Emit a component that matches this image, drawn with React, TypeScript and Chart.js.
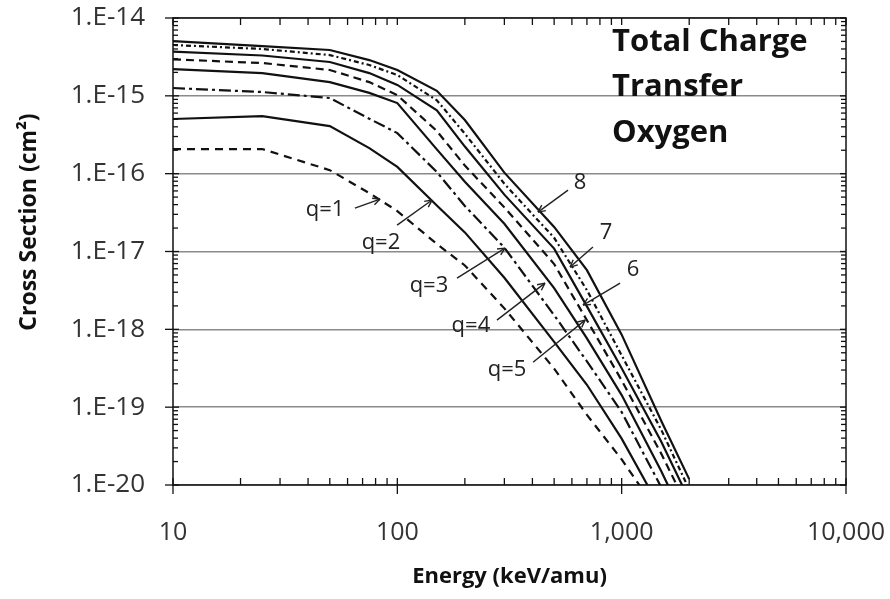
import React, { useEffect, useRef } from "react";
import { Chart, registerables } from "chart.js";

Chart.register(...registerables);

// ---- data ----
const ENERGY = [10, 25, 50, 75, 100, 150, 200, 300, 500, 700, 1000, 1500, 2000];
const Q1 = [2.07e-16, 2.07e-16, 1.11e-16, 5.63e-17, 3.31e-17, 1.25e-17, 6.62e-18, 1.86e-18, 3.13e-19, 7.96e-20, 2.13e-20, 3.92e-21, 9.6e-22];
const Q2 = [5.04e-16, 5.5e-16, 4.09e-16, 2.13e-16, 1.22e-16, 3.89e-17, 1.76e-17, 4.59e-18, 6.9e-19, 1.94e-19, 3.94e-20, 4.8e-21, 1.1e-21];
const Q3 = [1.26e-15, 1.12e-15, 9.37e-16, 5.08e-16, 3.32e-16, 1.05e-16, 3.85e-17, 1.12e-17, 1.52e-18, 3.88e-19, 8.65e-20, 9.4e-21, 1.64e-21];
const Q4 = [2.21e-15, 1.96e-15, 1.5e-15, 1.09e-15, 8.07e-16, 2.05e-16, 7.89e-17, 2.27e-17, 3.39e-18, 7.66e-19, 1.43e-19, 1.51e-20, 2.7e-21];
const Q5 = [2.94e-15, 2.64e-15, 2.15e-15, 1.5e-15, 1.02e-15, 3.53e-16, 1.27e-16, 3.69e-17, 6.9e-18, 1.31e-18, 2.21e-19, 2.54e-20, 4.72e-21];
const Q6 = [3.69e-15, 3.3e-15, 2.72e-15, 1.96e-15, 1.38e-15, 6.53e-16, 2.23e-16, 5.38e-17, 1.09e-17, 1.97e-18, 3.17e-19, 3.62e-20, 6.44e-21];
const Q7 = [4.5e-15, 4.0e-15, 3.34e-15, 2.49e-15, 1.85e-15, 8.77e-16, 3.26e-16, 7.41e-17, 1.5e-17, 3.19e-18, 4.63e-19, 5.15e-20, 8.75e-21];
const Q8 = [5.06e-15, 4.36e-15, 3.88e-15, 2.88e-15, 2.15e-15, 1.16e-15, 4.88e-16, 1.03e-16, 2.07e-17, 5.75e-18, 8.55e-19, 6.7e-20, 1.19e-20];

const SERIES_NAMES = ["q=1", "q=2", "q=3", "q=4", "q=5", "q=6", "q=7", "q=8"];
const SERIES_VALUES = [Q1, Q2, Q3, Q4, Q5, Q6, Q7, Q8];

const X_TICKS = [10, 100, 1000, 10000];
const X_TICK_LABELS = ["10", "100", "1,000", "10,000"];
const Y_TICKS = [1e-20, 1e-19, 1e-18, 1e-17, 1e-16, 1e-15, 1e-14];
const Y_TICK_LABELS = ["1.E-20", "1.E-19", "1.E-18", "1.E-17", "1.E-16", "1.E-15", "1.E-14"];

const X_TITLE = "Energy (keV/amu)";
const Y_TITLE = "Cross Section (cm²)";
const BOX_LINES = ["Total Charge", "Transfer", "Oxygen"];

// curve labels: text, anchor (log10 E, log10 sigma), arrow from, arrow to
const NOTE_TEXT = ["q=1", "q=2", "q=3", "q=4", "q=5", "8", "7", "6"];
const NOTE_AT = [[1.678, -16.468], [1.927, -16.892], [2.141, -17.445], [2.328, -17.959], [2.489, -18.524], [2.814, -16.121], [2.93, -16.763], [3.051, -17.239]];
const ARROW_FROM = [[1.811, -16.442], [1.999, -16.661], [2.266, -17.342], [2.444, -17.882], [2.605, -18.422], [2.761, -16.211], [2.872, -16.943], [2.993, -17.406]];
const ARROW_TO = [[1.923, -16.326], [2.155, -16.339], [2.48, -16.956], [2.658, -17.406], [2.837, -17.882], [2.627, -16.494], [2.77, -17.2], [2.828, -17.689]];

// ---- styles ----
const DASHES: number[][] = [[8, 6], [], [12, 4, 3, 4], [], [8, 5], [], [5, 3, 2, 3], []];
const INK = "#111111";
const FONT = "'Open Sans', 'Liberation Sans', sans-serif";

const overlayPlugin = {
  id: "overlay",
  afterDatasetsDraw(chart: any) {
    const { ctx, chartArea: a, scales } = chart;
    const xs = scales.x;
    const ys = scales.y;
    ctx.save();
    ctx.strokeStyle = INK;
    ctx.lineWidth = 1.5;
    ctx.setLineDash([]);
    ctx.strokeRect(a.left, a.top, a.right - a.left, a.bottom - a.top);

    const line = (x1: number, y1: number, x2: number, y2: number) => {
      ctx.beginPath();
      ctx.moveTo(x1, y1);
      ctx.lineTo(x2, y2);
      ctx.stroke();
    };
    ctx.lineWidth = 1.3;
    // x ticks
    for (let e = 1; e <= 4; e++) {
      const p = xs.getPixelForValue(Math.pow(10, e));
      line(p, a.bottom + 9, p, a.bottom - 7);
      line(p, a.top, p, a.top + 7);
      if (e < 4) {
        for (let m = 2; m <= 9; m++) {
          const q = xs.getPixelForValue(m * Math.pow(10, e));
          line(q, a.bottom, q, a.bottom - 7);
          line(q, a.top, q, a.top + 7);
        }
      }
    }
    // y ticks
    for (let e = -20; e <= -14; e++) {
      const p = ys.getPixelForValue(Math.pow(10, e));
      line(a.left - 8, p, a.left + 6, p);
      line(a.right, p, a.right - 6, p);
      if (e < -14) {
        for (let m = 2; m <= 9; m++) {
          const q = ys.getPixelForValue(m * Math.pow(10, e));
          line(a.left, q, a.left + 5, q);
          line(a.right, q, a.right - 5, q);
        }
      }
    }

    // curve annotations
    const px = (pt: number[]) => [xs.getPixelForValue(Math.pow(10, pt[0])), ys.getPixelForValue(Math.pow(10, pt[1]))];
    ctx.fillStyle = "#222";
    ctx.font = `22px ${FONT}`;
    ctx.textAlign = "center";
    ctx.textBaseline = "middle";
    ctx.lineWidth = 1.4;
    ctx.strokeStyle = "#222";
    for (let i = 0; i < NOTE_TEXT.length; i++) {
      const [tx, ty] = px(NOTE_AT[i]);
      ctx.fillText(NOTE_TEXT[i], tx, ty);
      const [x1, y1] = px(ARROW_FROM[i]);
      const [x2, y2] = px(ARROW_TO[i]);
      line(x1, y1, x2, y2);
      const ang = Math.atan2(y2 - y1, x2 - x1);
      const h = 8;
      line(x2, y2, x2 - h * Math.cos(ang - 0.45), y2 - h * Math.sin(ang - 0.45));
      line(x2, y2, x2 - h * Math.cos(ang + 0.45), y2 - h * Math.sin(ang + 0.45));
    }

    // text box
    ctx.fillStyle = "#111";
    ctx.font = `bold 31px ${FONT}`;
    ctx.textAlign = "left";
    ctx.textBaseline = "alphabetic";
    const bx = xs.getPixelForValue(Math.pow(10, 2.957));
    const baseLogs = [-14.424, -15.003, -15.594];
    BOX_LINES.forEach((t, i) => ctx.fillText(t, bx, ys.getPixelForValue(Math.pow(10, baseLogs[i]))));

    // axis titles
    ctx.font = `bold 22px ${FONT}`;
    ctx.textAlign = "center";
    ctx.textBaseline = "middle";
    ctx.fillText(X_TITLE, (a.left + a.right) / 2, 577);
    ctx.font = `bold 23px ${FONT}`;
    ctx.translate(29, 222);
    ctx.rotate(-Math.PI / 2);
    ctx.fillText(Y_TITLE, 0, 0);
    ctx.restore();
  },
};

const bgPlugin = {
  id: "bg",
  beforeDraw(chart: any) {
    const { ctx, width, height } = chart;
    ctx.save();
    ctx.fillStyle = "#ffffff";
    ctx.fillRect(0, 0, width, height);
    ctx.restore();
  },
};

export default function App() {
  const ref = useRef<HTMLCanvasElement | null>(null);

  useEffect(() => {
    if (!ref.current) return;
    const datasets = SERIES_VALUES.map((vals, i) => ({
      label: SERIES_NAMES[i],
      data: ENERGY.map((e, j) => ({ x: e, y: vals[j] })),
      borderColor: INK,
      backgroundColor: INK,
      borderWidth: 2.2,
      borderDash: DASHES[i],
      pointRadius: 0,
      tension: 0,
      fill: false,
      clip: 0,
    }));
    const chart = new Chart(ref.current, {
      type: "line",
      data: { datasets },
      options: {
        responsive: false,
        animation: false,
        events: [],
        layout: { padding: { left: 0, top: 18, right: 44, bottom: 0 } },
        plugins: { legend: { display: false }, tooltip: { enabled: false }, title: { display: false } },
        scales: {
          x: {
            type: "logarithmic",
            min: 10,
            max: 10000,
            afterBuildTicks: (s: any) => {
              s.ticks = X_TICKS.map((v) => ({ value: v, major: true }));
            },
            afterFit: (s: any) => {
              s.height = 114;
              s.paddingLeft = 0;
              s.paddingRight = 0;
              s.paddingTop = 0;
              s.paddingBottom = 0;
            },
            grid: { display: false, drawTicks: false },
            border: { display: false },
            ticks: {
              autoSkip: false,
              maxRotation: 0,
              padding: 33,
              color: "#333",
              font: { family: FONT, size: 25 },
              callback: (_v: any, i: number) => X_TICK_LABELS[i],
            },
          },
          y: {
            type: "logarithmic",
            min: 1e-20,
            max: 1e-14,
            afterBuildTicks: (s: any) => {
              s.ticks = Y_TICKS.map((v) => ({ value: v, major: true }));
            },
            afterFit: (s: any) => {
              s.width = 173;
              s.paddingLeft = 0;
              s.paddingRight = 0;
              s.paddingTop = 0;
              s.paddingBottom = 0;
            },
            grid: { display: true, drawTicks: false, color: "#8a8a8a", lineWidth: 1.5 },
            border: { display: false },
            ticks: {
              autoSkip: false,
              padding: 28,
              color: "#333",
              font: { family: FONT, size: 26 },
              callback: (_v: any, i: number) => Y_TICK_LABELS[i],
            },
          },
        },
      },
      plugins: [bgPlugin, overlayPlugin],
    } as any);
    return () => chart.destroy();
  }, []);

  return (
    <div style={{ position: "fixed", left: 0, top: 0, width: 890, height: 599, background: "#fff" }}>
      <canvas ref={ref} width={890} height={599} />
    </div>
  );
}
